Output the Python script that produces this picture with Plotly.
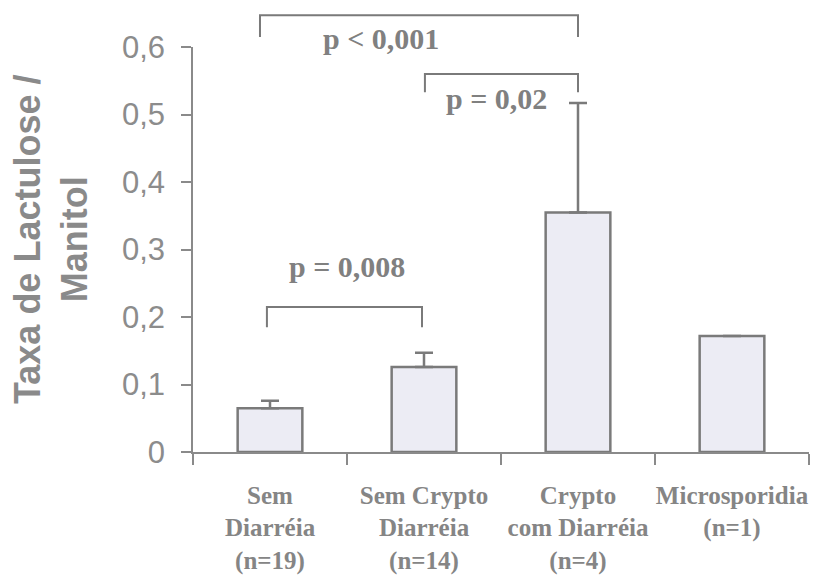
import plotly.graph_objects as go

# Lactulose / mannitol ratio by patient group (mean + upper SE)
categories = [
    "Sem<br>Diarréia<br>(n=19)",
    "Sem Crypto<br>Diarréia<br>(n=14)",
    "Crypto<br>com Diarréia<br>(n=4)",
    "Microsporidia<br>(n=1)",
]
ratio_mean = [0.065, 0.126, 0.355, 0.172]
ratio_err_plus = [0.011, 0.021, 0.162, 0.0]

y_ticks = [0, 0.1, 0.2, 0.3, 0.4, 0.5, 0.6]
y_tick_text = ["0", "0,1", "0,2", "0,3", "0,4", "0,5", "0,6"]
Y_MAX = 0.6

# Significance brackets: (left index, right index, bar height, leg end, label, label x, label y)
comparisons = [
    (-0.065, 2.0, 0.647, 0.615, "p < 0,001", 0.72, 0.613),
    (1.006, 2.0, 0.560, 0.533, "p = 0,02", 1.47, 0.524),
    (-0.02, 0.987, 0.215, 0.185, "p = 0,008", 0.50, 0.275),
]

LINE_GREY = "#7a7a7a"
TEXT_GREY = "#858585"

W, H = 819, 584
M_L, M_R, M_T, M_B = 193, 10, 47, 132

fig = go.Figure()
fig.add_trace(go.Bar(
    x=categories,
    y=ratio_mean,
    marker=dict(color="#ececf4", line=dict(color=LINE_GREY, width=2.5)),
    error_y=dict(
        type="data",
        symmetric=False,
        array=ratio_err_plus,
        arrayminus=[0] * len(ratio_mean),
        color=LINE_GREY,
        thickness=2.5,
        width=9,
    ),
    showlegend=False,
))

for x0, x1, top, leg, label, lx, ly in comparisons:
    fig.add_shape(
        type="path",
        xref="x", yref="y domain",
        path=f"M {x0},{leg / Y_MAX} L {x0},{top / Y_MAX} L {x1},{top / Y_MAX} L {x1},{leg / Y_MAX}",
        line=dict(color=LINE_GREY, width=2),
    )
    fig.add_annotation(
        x=lx, y=ly / Y_MAX, xref="x", yref="y domain",
        text=f"<b>{label}</b>", showarrow=False,
        font=dict(family="Liberation Serif", size=30, color="#808080"),
        xanchor="center", yanchor="middle",
    )

# Two-line rotated y-axis title, placed left of the tick labels
plot_w = W - M_L - M_R
plot_h = H - M_T - M_B
fig.add_annotation(
    x=(51 - M_L) / plot_w, y=(H - M_B - 240) / plot_h,
    xref="paper", yref="paper",
    text="<b>Taxa de Lactulose /<br>Manitol</b>",
    showarrow=False, textangle=-90,
    font=dict(family="Liberation Sans", size=36, color="#8a8a8a"),
    xanchor="center", yanchor="middle",
)

fig.update_layout(
    width=W, height=H,
    margin=dict(l=M_L, r=M_R, t=M_T, b=M_B),
    paper_bgcolor="white", plot_bgcolor="white",
    bargap=0.58,
)

fig.update_yaxes(
    range=[0, Y_MAX],
    tickvals=y_ticks, ticktext=y_tick_text,
    ticks="outside", ticklen=10, tickwidth=1.5, tickcolor="#8a8a8a",
    showline=True, linecolor="#8a8a8a", linewidth=1.5,
    showgrid=False, zeroline=False,
    tickfont=dict(family="Liberation Sans", size=31, color="#8c8c8c"),
    ticklabelstandoff=10,
    automargin=False,
)
fig.update_xaxes(
    type="category",
    tickson="boundaries",
    tickangle=0,
    ticks="outside", ticklen=11, tickwidth=1.5, tickcolor="#8a8a8a",
    showline=True, linecolor="#8a8a8a", linewidth=1.5,
    showgrid=False,
    tickfont=dict(family="Liberation Serif", size=25, color=TEXT_GREY, weight="bold"),
    ticklabelstandoff=20,
    automargin=False,
)

fig.write_html("out.html")
